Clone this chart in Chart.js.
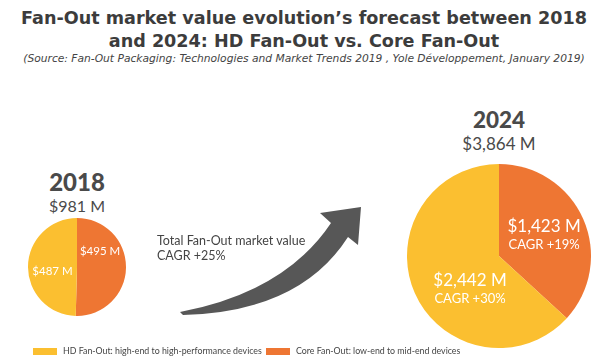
<!DOCTYPE html>
<html>
<head>
<meta charset="utf-8">
<script src="https://cdn.jsdelivr.net/npm/chart.js@4/dist/chart.umd.min.js"></script>
<style>
  body { margin: 0; background: #fff; }
  #page { position: relative; width: 608px; height: 362px; overflow: hidden; font-family: Lato, sans-serif; color: #444; }
  .title { position: absolute; left: 0; width: 608px; text-align: center; font-family: "DejaVu Sans", sans-serif; font-weight: bold; font-size: 17.6px; color: #3c3c3c; }
  .source { position: absolute; left: 0; width: 608px; text-align: center; top: 52px; font-family: "DejaVu Sans", sans-serif; font-style: italic; font-size: 10.7px; color: #444; }
  .pie { position: absolute; }
  .year { position: absolute; text-align: center; line-height: 1; font-family: Lato, sans-serif; font-weight: 900; color: #4a4a4a; }
  .total { position: absolute; text-align: center; line-height: 1; font-family: Lato, sans-serif; color: #4a4a4a; }
  #note { position: absolute; left: 157px; top: 233px; font-size: 12.5px; line-height: 15px; color: #444; }
  .item { position: absolute; top: 345px; font-size: 8.8px; line-height: 12px; color: #444; display: flex; align-items: center; white-space: nowrap; }
  .box { display: inline-block; width: 24px; height: 7px; margin-right: 6px; }
</style>
</head>
<body>
<div id="page">
  <div class="title" style="top:8px">Fan-Out market value evolution’s forecast between 2018</div>
  <div class="title" style="top:31px">and 2024: HD Fan-Out vs. Core Fan-Out</div>
  <div class="source">(Source: Fan-Out Packaging: Technologies and Market Trends 2019 , Yole Développement, January 2019)</div>

  <div class="year" id="y0" style="left:27px; width:100px; top:170px; font-size:24px;"></div>
  <div class="total" id="t0" style="left:27px; width:100px; top:198px; font-size:16px;"></div>
  <div class="year" id="y1" style="left:449px; width:100px; top:109px; font-size:22.5px;"></div>
  <div class="total" id="t1" style="left:429px; width:140px; top:135px; font-size:17px;"></div>

  <div class="pie" style="left:28px; top:218px; width:98px; height:98px;"><canvas id="pie0"></canvas></div>
  <div class="pie" style="left:407px; top:164px; width:184px; height:184px;"><canvas id="pie1"></canvas></div>

  <svg width="608" height="362" style="position:absolute;left:0;top:0">
    <path d="M180,312 Q285,292 331,223 L320,213 L361,207 L358,245 L348,237 Q300,312 183,315 Z" fill="#575757"/>
  </svg>
  <div id="note"></div>

  <div id="legend"></div>
</div>

<script>
// slices run clockwise from 12 o'clock: Core first, then HD
const segments = ['Core Fan-Out: low-end to mid-end devices', 'HD Fan-Out: high-end to high-performance devices'];
const colors = ['#EE7633', '#FBBF30'];
const years = ['2018', '2024'];
const totals = [981, 3864];
const values2018 = [495, 487];
const values2024 = [1423, 2442];
const cagr2024 = ['+19%', '+30%'];
const totalCagr = '+25%';

const money = v => '$' + v.toLocaleString('en-US') + ' M';

years.forEach((y, i) => {
    document.querySelector('#y' + i).textContent = y;
    document.querySelector('#t' + i).textContent = money(totals[i]);
});
document.querySelector('#note').innerHTML = 'Total Fan-Out market value<br>CAGR ' + totalCagr;

// legend in HD, Core order
const legendLeft = [266, 33];
let legendHtml = '';
[1, 0].forEach(i => {
    legendHtml += '<span class="item" style="left:' + legendLeft[i] + 'px"><span class="box" style="background:' + colors[i] + '"></span>' + segments[i] + '</span>';
});
document.querySelector('#legend').innerHTML = legendHtml;

const sliceLabels = {
    id: 'sliceLabels',
    afterDatasetsDraw(chart, args, opts) {
        const ctx = chart.ctx;
        const meta = chart.getDatasetMeta(0);
        ctx.save();
        ctx.fillStyle = '#fff';
        ctx.textAlign = 'center';
        ctx.textBaseline = 'middle';
        meta.data.forEach((arc, i) => {
            const off = opts.offsets[i];
            const x = arc.x + off[0] * arc.outerRadius;
            let y = arc.y + off[1] * arc.outerRadius;
            opts.lines[i].forEach((line, j) => {
                ctx.font = opts.sizes[j] + 'px Lato, sans-serif';
                ctx.fillText(line, x, y);
                y += opts.gap;
            });
        });
        ctx.restore();
    }
};

function makePie(id, values, lines, labelOpts) {
    return new Chart(document.querySelector(id), {
        type: 'pie',
        data: {
            labels: segments,
            datasets: [{
                data: values,
                backgroundColor: colors,
                borderWidth: 0
            }]
        },
        options: {
            responsive: true,
            maintainAspectRatio: false,
            animation: false,
            layout: { padding: 0 },
            plugins: {
                legend: { display: false },
                tooltip: { enabled: false },
                sliceLabels: Object.assign({ lines: lines }, labelOpts)
            }
        },
        plugins: [sliceLabels]
    });
}

makePie('#pie0', values2018,
    values2018.map(v => [money(v)]),
    { offsets: [[0.47, -0.33], [-0.5, 0.08]], sizes: [11.5], gap: 0 });

makePie('#pie1', values2024,
    values2024.map((v, i) => [money(v), 'CAGR ' + cagr2024[i]]),
    { offsets: [[0.49, -0.32], [-0.315, 0.27]], sizes: [17, 13], gap: 18 });
</script>
</body>
</html>
